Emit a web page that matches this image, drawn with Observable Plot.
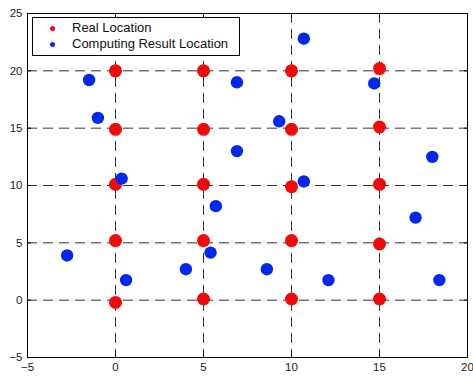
<!DOCTYPE html>
<html><head><meta charset="utf-8">
<script src="https://cdn.jsdelivr.net/npm/d3@7"></script>
<script src="https://cdn.jsdelivr.net/npm/@observablehq/plot@0.6"></script>
<style>
body{margin:0;background:#fff;font-family:"Liberation Sans",Arial,sans-serif;}
#wrap{position:relative;width:473px;height:377px;}
#legend{position:absolute;left:32px;top:17px;width:206px;height:37px;border:1px solid #000;background:#fff;font-size:13px;color:#111;}
#legend .row{position:absolute;left:0;height:16px;line-height:16px;}
#legend .dot{position:absolute;left:17px;top:6px;width:5px;height:5px;border-radius:50%;}
#legend .lab{position:absolute;left:39px;top:0;white-space:nowrap;}
</style></head><body>
<div id="wrap"><div id="legend">
<div class="row" style="top:2px"><span class="dot" style="background:#f00"></span><span class="lab">Real Location</span></div>
<div class="row" style="top:18px"><span class="dot" style="background:#0028f0"></span><span class="lab">Computing Result Location</span></div>
</div></div>
<script>
const xTicks = [-5, 0, 5, 10, 15, 20];
const yTicks = [-5, 0, 5, 10, 15, 20, 25];
const gridX = [0, 5, 10, 15];
const gridY = [0, 5, 10, 15, 20];

const realX = [0, 5, 10, 15, 0, 5, 10, 15, 0, 5, 10, 15, 0, 5, 10, 15, 0, 5, 10, 15];
const realY = [20, 20, 20, 20.2, 14.9, 14.9, 14.9, 15.1, 10.1, 10.1, 9.9, 10.1, 5.2, 5.2, 5.2, 4.9, -0.2, 0.1, 0.1, 0.1];

const compX = [-1.5, -1.0, 0.35, 6.9, 6.9, 10.7, 9.3, 14.7, 18.0, 10.7, 5.7, -2.75, 0.6, 4.0, 5.4, 17.05, 8.6, 12.1, 18.4];
const compY = [19.2, 15.9, 10.6, 19.0, 13.0, 22.8, 15.6, 18.9, 12.5, 10.35, 8.2, 3.9, 1.75, 2.7, 4.15, 7.2, 2.7, 1.75, 1.75];

const real = realX.map((x, i) => ({x, y: realY[i]}));
const comp = compX.map((x, i) => ({x, y: compY[i]}));

const chart = Plot.plot({
  width: 473, height: 377,
  marginLeft: 27, marginRight: 6, marginTop: 13, marginBottom: 20,
  style: {fontFamily: "'Liberation Sans', Arial, sans-serif", fontSize: "11.5px", color: "#222", background: "#fff"},
  x: {domain: [-5, 20], ticks: xTicks},
  y: {domain: [-5, 25], ticks: yTicks},
  marks: [
    Plot.ruleX(gridX, {stroke: "#333", strokeDasharray: "10,6", strokeWidth: 1}),
    Plot.ruleY(gridY, {stroke: "#333", strokeDasharray: "10,6", strokeWidth: 1}),
    Plot.frame({stroke: "#000", strokeWidth: 1}),
    Plot.axisX({ticks: xTicks, tickSize: -4, tickPadding: 9, label: null, stroke: "#000"}),
    Plot.axisX({ticks: xTicks, anchor: "top", tickSize: -4, tickFormat: () => "", label: null, stroke: "#000"}),
    Plot.axisY({ticks: yTicks, tickSize: -4, tickPadding: 9, label: null, stroke: "#000"}),
    Plot.axisY({ticks: yTicks, anchor: "right", tickSize: -4, tickFormat: () => "", label: null, stroke: "#000"}),
    Plot.dot(real, {x: "x", y: "y", r: 6.5, fill: "#f20a0a", stroke: "none"}),
    Plot.dot(comp, {x: "x", y: "y", r: 6.2, fill: "#0028f0", stroke: "none"})
  ]
});
document.getElementById("wrap").prepend(chart);
chart.style.position = "absolute"; chart.style.left = "0"; chart.style.top = "0";
</script>
</body></html>
